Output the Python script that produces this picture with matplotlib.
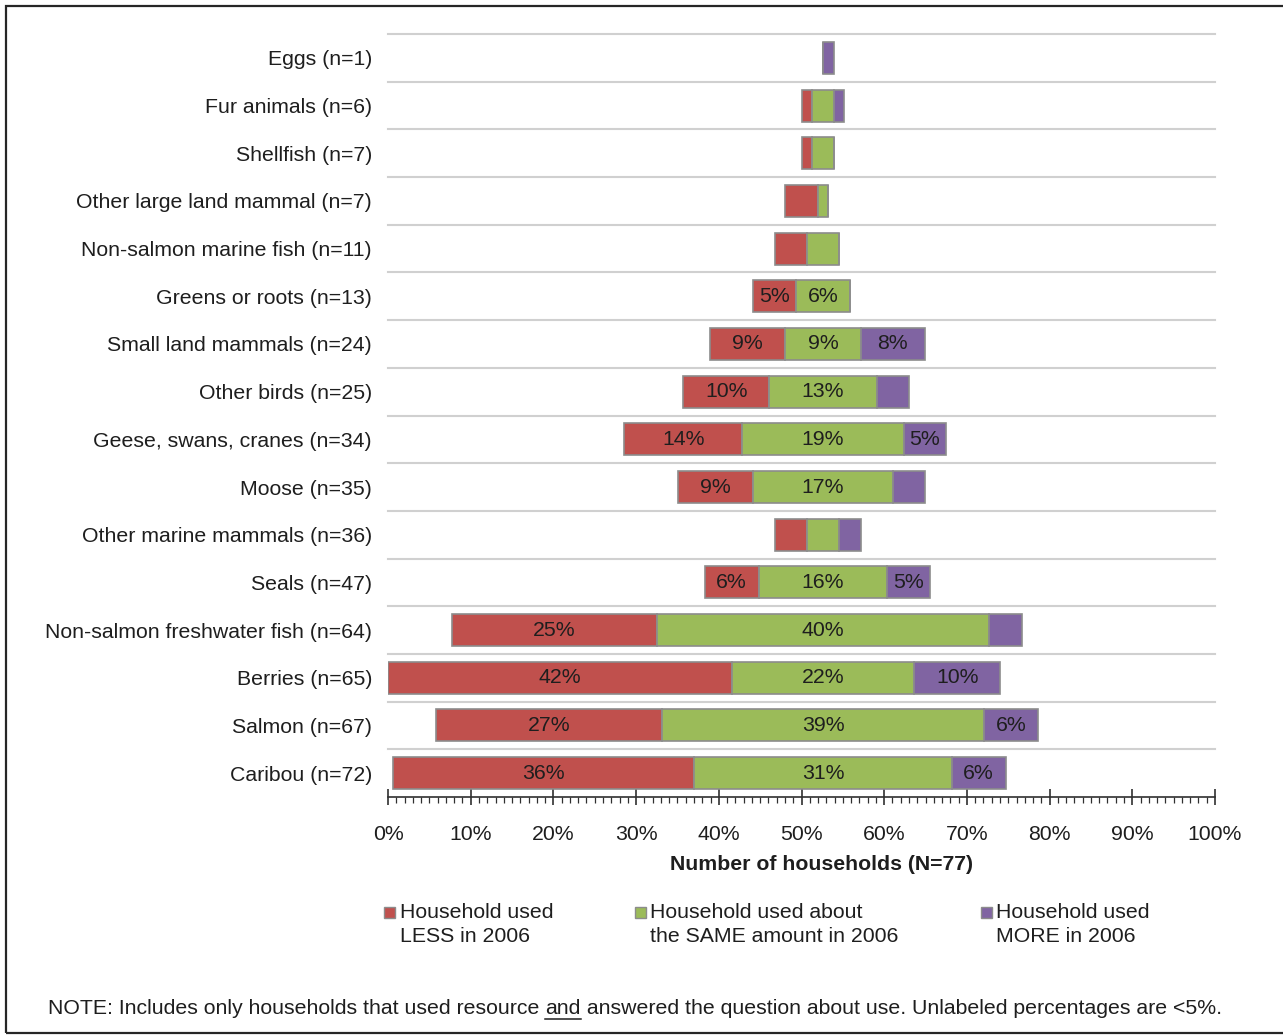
import numpy as np
import matplotlib
matplotlib.use("Agg")
import matplotlib.pyplot as plt
from matplotlib.patches import Rectangle
from matplotlib.lines import Line2D

plt.rcParams['font.family'] = ['Liberation Sans', 'DejaVu Sans']

# households out of N=77, top row first
N = 77
categories = ['Eggs (n=1)', 'Fur animals (n=6)', 'Shellfish (n=7)',
              'Other large land mammal (n=7)', 'Non-salmon marine fish (n=11)',
              'Greens or roots (n=13)', 'Small land mammals (n=24)',
              'Other birds (n=25)', 'Geese, swans, cranes (n=34)', 'Moose (n=35)',
              'Other marine mammals (n=36)', 'Seals (n=47)',
              'Non-salmon freshwater fish (n=64)', 'Berries (n=65)',
              'Salmon (n=67)', 'Caribou (n=72)']
used_less = [0, 1, 1, 3, 3, 4, 7, 8, 11, 7, 3, 5, 19, 32, 21, 28]
used_same = [0, 2, 2, 1, 3, 5, 7, 10, 15, 13, 3, 12, 31, 17, 30, 24]
used_more = [1, 1, 0, 0, 0, 0, 6, 3, 4, 3, 2, 4, 3, 8, 5, 5]
legend_labels = [('Household used', 'LESS in 2006'),
                 ('Household used about', 'the SAME amount in 2006'),
                 ('Household used', 'MORE in 2006')]

colors = ['#C0504D', '#9BBB59', '#8064A2']
edge = '#8C8C8C'
txt = '#1E1E1E'
fs = 15.3

less = np.array(used_less) / N * 100
same = np.array(used_same) / N * 100
more = np.array(used_more) / N * 100
# centre the "same" segments on a common line
center = np.max(less + same / 2)
start = center - less - same / 2

W, H = 1283, 1035
fig = plt.figure(figsize=(W / 100, H / 100), dpi=100)
ax = fig.add_axes([388 / W, 1 - 797 / H, (1215 - 388) / W, (797 - 34) / H])

y = np.arange(len(categories))
lefts = [start, start + less, start + less + same]
for vals, lft, c in zip([less, same, more], lefts, colors):
    bars = ax.barh(y, vals, left=lft, height=0.67, color=c,
                   edgecolor=edge, linewidth=1.2, zorder=3)
    labs = ['%.0f%%' % v if v >= 4.5 else '' for v in vals]
    ax.bar_label(bars, labels=labs, label_type='center', fontsize=fs,
                 color=txt)

ax.set_xlim(0, 100)
ax.set_ylim(len(categories) - 0.5, -0.5)
ax.set_yticks(y)
ax.set_yticklabels(categories, fontsize=fs, color=txt)
ax.set_yticks(np.arange(len(categories)) - 0.5, minor=True)
ax.tick_params(axis='y', which='both', length=0, pad=11.5)
ax.grid(axis='y', which='minor', color='#D0D0D0', linewidth=1.5, zorder=0)
for t in ax.yaxis.get_minor_ticks():
    t.gridline.set_clip_on(False)

ax.set_xticks(np.arange(0, 101, 10))
ax.set_xticks(np.arange(0, 101, 1), minor=True)
ax.set_xticklabels(['%d%%' % v for v in range(0, 101, 10)], fontsize=fs,
                   color=txt)
ax.tick_params(axis='x', which='major', direction='inout', length=11,
               width=1.2, color='#303030', pad=15)
ax.tick_params(axis='x', which='minor', direction='out', length=4,
               width=0.9, color='#303030')
for s in ['top', 'right', 'left']:
    ax.spines[s].set_visible(False)
ax.spines['bottom'].set_color('#303030')
ax.spines['bottom'].set_linewidth(1.2)
ax.set_xlabel('Number of households (N=77)', fontsize=fs, fontweight='bold',
              color=txt)
ax.xaxis.set_label_coords((821.5 - 388) / (1215 - 388), -(864 - 797) / (797 - 34))
ax.xaxis.label.set_va('center')

# legend
for (l1, l2), c, mx, tx in zip(legend_labels, colors, [384, 635, 981],
                               [400, 650, 996]):
    fig.add_artist(Rectangle((mx / W, 1 - 918 / H), 11 / W, 11 / H,
                             facecolor=c, edgecolor=edge, linewidth=1.0,
                             transform=fig.transFigure))
    fig.text(tx / W, 1 - 912 / H, l1, fontsize=fs, color=txt, va='center')
    fig.text(tx / W, 1 - 937 / H, l2, fontsize=fs, color=txt, va='center')

# note with underlined "and"
t1 = fig.text(48 / W, 1 - 1008 / H,
              'NOTE: Includes only households that used resource ',
              fontsize=fs, color=txt, va='center')
t2 = fig.text(0, 0, 'and', fontsize=fs, color=txt, va='center')
fig.canvas.draw()
r = fig.canvas.get_renderer()
bb1 = t1.get_window_extent(r)
t2.set_position((bb1.x1 / W, 1 - 1008 / H))
t3 = fig.text(0, 0, ' answered the question about use. Unlabeled percentages are <5%.',
              fontsize=fs, color=txt, va='center')
fig.canvas.draw()
bb2 = t2.get_window_extent(r)
t3.set_position((bb2.x1 / W, 1 - 1008 / H))
fig.add_artist(Line2D([bb2.x0 / W, bb2.x1 / W], [1 - 1019 / H, 1 - 1019 / H],
                      color=txt, linewidth=1.1, transform=fig.transFigure))

# outer frame (right side runs off the image)
fig.add_artist(Rectangle((5.5 / W, 1 - 1033 / H), 1.2, (1033 - 6) / H,
                         facecolor='none', edgecolor='#262626', linewidth=1.6,
                         transform=fig.transFigure))

fig.savefig('out.png', dpi=100)
